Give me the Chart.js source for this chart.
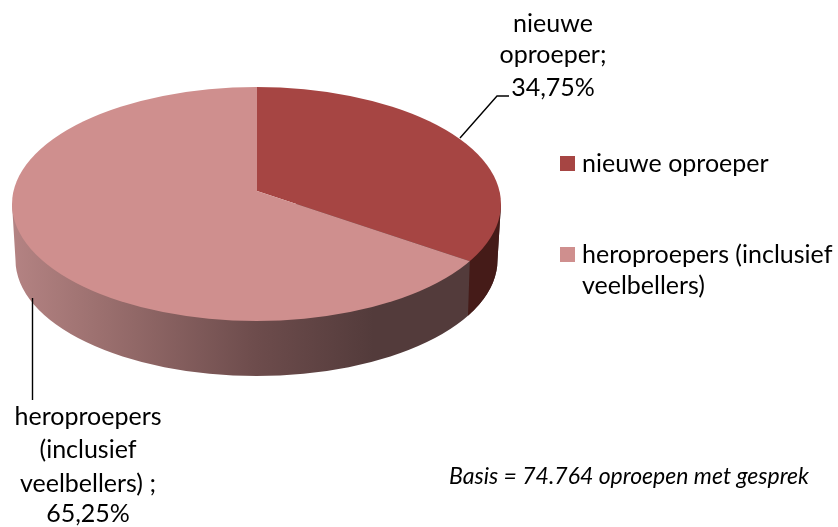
<!DOCTYPE html>
<html><head><meta charset="utf-8">
<style>html,body{margin:0;padding:0;background:#fff}#w{position:relative;width:838px;height:527px}canvas{display:block}</style>
<script src="https://cdn.jsdelivr.net/npm/chart.js@4/dist/chart.umd.min.js"></script>
</head><body><div id="w"><canvas id="c" width="838" height="527"></canvas></div>
<script>
const categories = ['nieuwe oproeper', 'heroproepers (inclusief veelbellers)'];
const values = [34.75, 65.25];
const sliceColors = ['#A64543', '#CF8F8E'];
const legendLines = [['nieuwe oproeper'], ['heroproepers (inclusief', 'veelbellers)']];
const calloutLines = [['nieuwe', 'oproeper;'], ['heroproepers', '(inclusief', 'veelbellers) ;']];
const note = 'Basis = 74.764 oproepen met gesprek';

const FONT = 'Lato, "Noto Sans", sans-serif';
const top3d = {cx: 256.5, cy: 204, rx: 244.5, ry: 117};
const bottom3d = {cx: 256.5, cy: 260, rx: 241, ry: 116};
const apex = {x: 257, y: 191};
const fmt = v => v.toFixed(2).replace('.', ',') + '%';

function wall(ctx, arc) {
  const t = top3d, b = bottom3d;
  ctx.save();
  const g = ctx.createLinearGradient(t.cx - t.rx, 0, t.cx + t.rx, 0);
  g.addColorStop(0, '#B48383');
  g.addColorStop(0.17, '#9D7170');
  g.addColorStop(0.5, '#6D4C4C');
  g.addColorStop(0.74, '#533B3B');
  g.addColorStop(1, '#533B3B');
  ctx.beginPath();
  ctx.moveTo(t.cx + t.rx, t.cy);
  ctx.ellipse(b.cx, b.cy, b.rx, b.ry, 0, 0, Math.PI);
  ctx.lineTo(t.cx - t.rx, t.cy);
  ctx.closePath();
  ctx.fillStyle = g;
  ctx.fill();
  ctx.clip();
  // wall of the darker slice, right of the slice boundary
  const e = rim(arc.endAngle);
  ctx.beginPath();
  ctx.moveTo(e.x, e.y);
  ctx.lineTo(e.x - 2, e.y + 60);
  ctx.lineTo(600, e.y + 60);
  ctx.lineTo(600, 100);
  ctx.lineTo(e.x, 100);
  ctx.closePath();
  ctx.fillStyle = '#451B18';
  ctx.fill();
  ctx.restore();
}
let S = {x: 1, y: 1};
function rim(angle) {
  // point where the slice edge meets the top ellipse
  const dx = Math.cos(angle) * S.x, dy = Math.sin(angle) * S.y;
  const t = top3d, ox = apex.x - t.cx, oy = apex.y - t.cy;
  const A = dx * dx / (t.rx * t.rx) + dy * dy / (t.ry * t.ry);
  const B = 2 * (ox * dx / (t.rx * t.rx) + oy * dy / (t.ry * t.ry));
  const C = ox * ox / (t.rx * t.rx) + oy * oy / (t.ry * t.ry) - 1;
  const k = (-B + Math.sqrt(B * B - 4 * A * C)) / (2 * A);
  return {x: apex.x + k * dx, y: apex.y + k * dy};
}
const tilt = {
  id: 'tilt',
  beforeDatasetsDraw(chart) {
    const ctx = chart.ctx, arc = chart.getDatasetMeta(0).data[0];
    const R = arc.outerRadius;
    S = {x: 311 / R, y: 146 / R};
    wall(ctx, arc);
    ctx.save();
    ctx.beginPath();
    ctx.ellipse(top3d.cx, top3d.cy, top3d.rx, top3d.ry, 0, 0, Math.PI * 2);
    ctx.clip();
    ctx.translate(apex.x, apex.y);
    ctx.scale(S.x, S.y);
    ctx.translate(-arc.x, -arc.y);
  },
  afterDatasetsDraw(chart) {
    const ctx = chart.ctx;
    ctx.restore();
    ctx.save();
    // leader lines
    ctx.strokeStyle = '#000';
    ctx.lineWidth = 1.4;
    ctx.beginPath();
    ctx.moveTo(460, 138); ctx.lineTo(497, 96); ctx.lineTo(509, 96);
    ctx.moveTo(32.5, 298); ctx.lineTo(32.5, 400);
    ctx.stroke();
    // callouts
    ctx.fillStyle = '#000';
    ctx.textBaseline = 'alphabetic';
    ctx.textAlign = 'center';
    ctx.font = '25px ' + FONT;
    const a = [...calloutLines[0], fmt(values[0])];
    const ay = [32, 63, 96];
    a.forEach((s, i) => ctx.fillText(s, 553, ay[i]));
    const bl = [...calloutLines[1], fmt(values[1])];
    const by = [425, 458, 492, 522];
    bl.forEach((s, i) => ctx.fillText(s, 88, by[i]));
    // legend
    ctx.textAlign = 'left';
    const sy = [156, 247];
    const ly = [[172], [263, 294]];
    categories.forEach((c, i) => {
      ctx.fillStyle = sliceColors[i];
      ctx.fillRect(560, sy[i], 15, 15);
      ctx.fillStyle = '#000';
      legendLines[i].forEach((s, j) => ctx.fillText(s, 582, ly[i][j]));
    });
    ctx.font = 'italic 23px ' + FONT;
    ctx.fillText(note, 449, 484);
    ctx.restore();
  }
};
new Chart(document.getElementById('c'), {
  type: 'doughnut',
  data: {labels: categories, datasets: [{data: values, backgroundColor: sliceColors, borderWidth: 0, clip: false}]},
  options: {
    responsive: false, animation: false, cutout: 0, rotation: 0,
    layout: {padding: 0},
    plugins: {legend: {display: false}, tooltip: {enabled: false}}
  },
  plugins: [tilt]
});
</script></body></html>
